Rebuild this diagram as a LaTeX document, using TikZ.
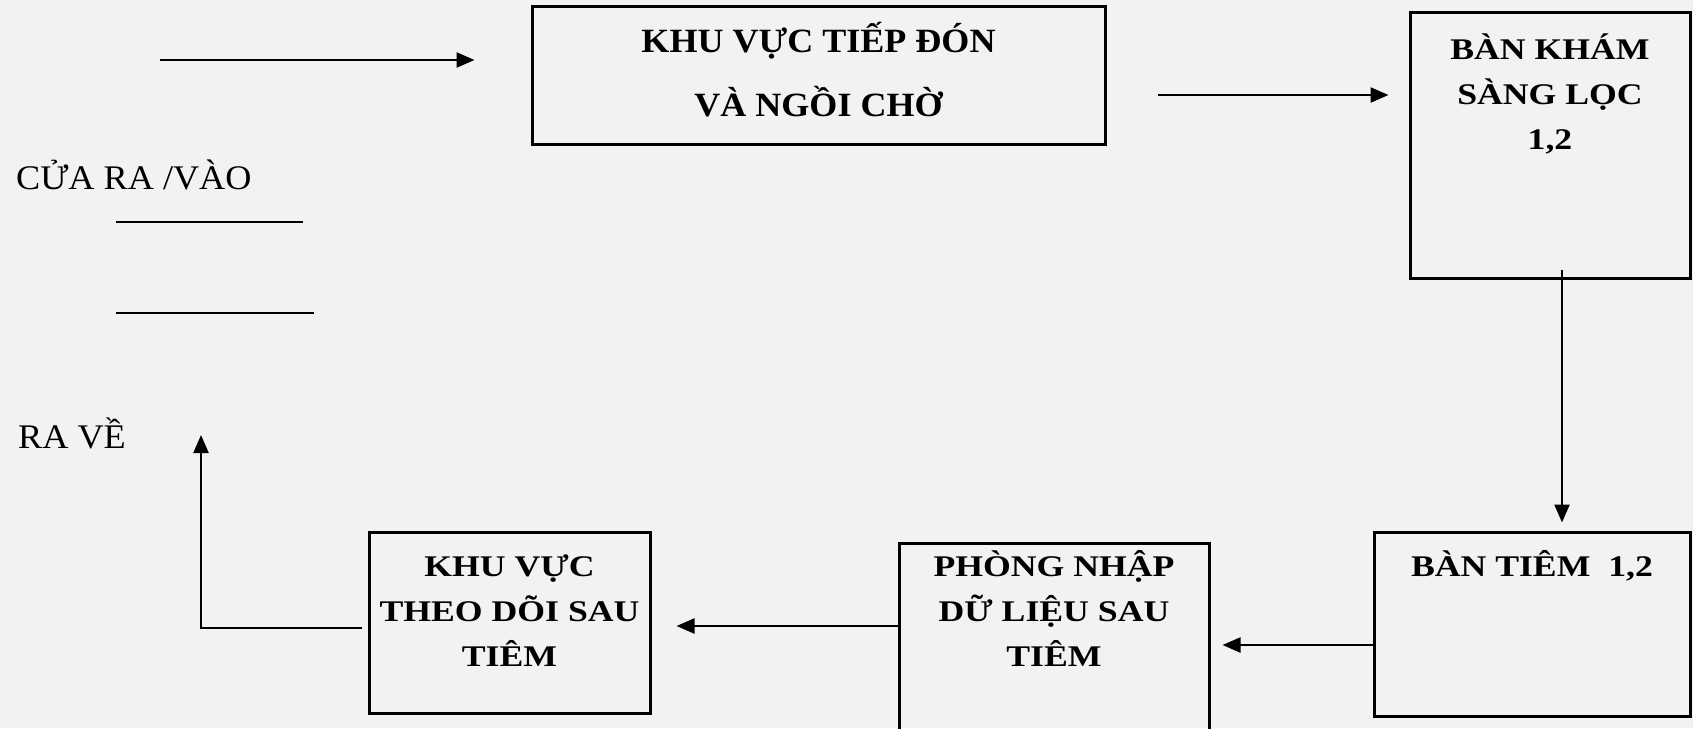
\documentclass[tikz,border=0pt]{standalone}
\usepackage{fontspec}
\usepackage{tikz}
\usetikzlibrary{arrows.meta,positioning}
\setmainfont{Liberation Serif}
\newfontfamily\roomfont[FakeStretch=1.19]{Liberation Serif}
\newfontfamily\hallfont[FakeStretch=1.06]{Liberation Serif}
\newfontfamily\doorfont[FakeStretch=1.05]{Liberation Serif}
\definecolor{paper}{gray}{0.95}

\begin{document}
\begin{tikzpicture}[x=1pt,y=-1pt]
    % `room' is the frame of an area, `tag' the bold text written in it.
    % `flow' is used for the arrows, `door' for the plain labels on the left.
    \tikzstyle{room} = [draw,line width=3pt,inner sep=0pt]
    \tikzstyle{tag} = [font=\roomfont\bfseries\fontsize{30}{45}\selectfont,align=center,inner sep=0pt]
    \tikzstyle{flow} = [line width=2.4pt,-{Triangle[length=18pt,width=15pt]}]
    \tikzstyle{door} = [font=\doorfont\fontsize{34.5}{40}\selectfont,inner sep=0pt]
    %
    \useasboundingbox (0,0) rectangle (1693,728);
    \clip (0,0) rectangle (1693,728);
    \fill[paper] (0,0) rectangle (1693,728);

    % Areas.
    \node[room,minimum width=573pt,minimum height=138pt] (tiepdon) at (818.5,75) {};
    \node[room,minimum width=280pt,minimum height=266pt] (kham) at (1550,145) {};
    \node[room,minimum width=316pt,minimum height=184pt] (tiem) at (1532,624) {};
    \node[room,minimum width=310pt,minimum height=257pt] (nhap) at (1054,671.5) {};
    \node[room,minimum width=281pt,minimum height=181pt] (theodoi) at (509.5,622.5) {};

    \node[tag,font=\hallfont\bfseries\fontsize{34}{45}\selectfont,below=18pt of tiepdon.north]
        (tiepdontxt) {KHU VỰC TIẾP ĐÓN\\[19pt]VÀ NGỒI CHỜ};
    \node[tag,below=23pt of kham.north] (khamtxt) {BÀN KHÁM\\SÀNG LỌC\\1,2};
    \node[tag,below=20pt of tiem.north] (tiemtxt) {BÀN TIÊM~~1,2};
    \node[tag,below=9pt of nhap.north] (nhaptxt) {PHÒNG NHẬP\\DỮ LIỆU SAU\\TIÊM};
    \node[tag,below=24pt of theodoi.north] (theodoitxt) {KHU VỰC\\THEO DÕI SAU\\TIÊM};

    % Door on the left.
    \node[door,anchor=base west] (door) at (16,189) {CỬA RA /VÀO};
    \node[door,anchor=base west] (exit) at (18,448) {RA VỀ};
    \draw[line width=2pt] (116,222) -- (303,222)  (116,313) -- (314,313);

    % Arrows.
    \coordinate (enter) at (160,60);
    \coordinate (toscreen) at (1158,95);
    \coordinate (toinject) at (1562,270);
    \coordinate (todata) at (1374,645);
    \coordinate (towatch) at (899,626);
    \coordinate (leave) at (362,628);
    \coordinate (out) at (201,435);
    \draw[flow,shorten >=56pt] (enter) -- (enter -| tiepdon.west);
    \draw[flow,shorten >=20pt] (toscreen) -- (toscreen -| kham.west);
    \draw[flow,shorten >=8pt] (toinject) -- (toinject |- tiem.north);
    \draw[flow,shorten >=12pt] (todata) -- (todata -| nhap.east);
    \draw[flow,shorten >=25pt] (towatch) -- (towatch -| theodoi.east);
    \draw[flow] (leave) -| (out);
\end{tikzpicture}
\end{document}
